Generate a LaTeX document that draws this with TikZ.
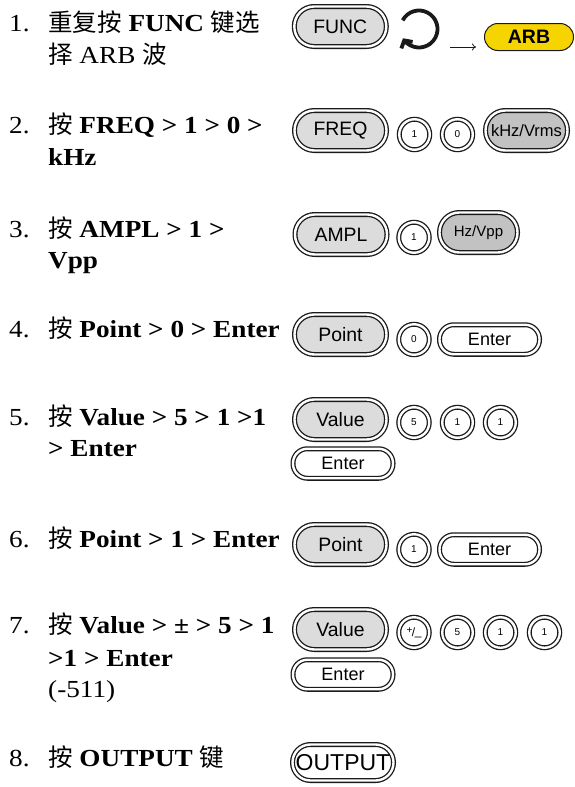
\documentclass[tikz,border=0pt]{standalone}
\usepackage{fontspec}
\setmainfont{Liberation Serif}[FakeStretch=1.11]
\newfontfamily\cjk{Noto Sans CJK SC}
\newfontfamily\btnf{Liberation Sans}
\usetikzlibrary{arrows.meta}
\definecolor{lgray}{HTML}{DCDCDC}
\definecolor{dgray}{HTML}{C2C2C2}
\definecolor{arby}{HTML}{F5D400}
\definecolor{ink}{HTML}{1A1A1A}
\newcommand\zh[1]{{\cjk #1}}
\tikzset{
  keyline/.style={draw=ink, double=white, double distance=2.4pt, line width=1.3pt, inner sep=0pt},
  bigkey/.style={keyline, rounded corners=19.8pt, minimum width=92pt, minimum height=40pt, fill=lgray, font=\btnf\fontsize{19.4}{20}\selectfont},
  unitkey/.style={keyline, rounded corners=19.8pt, minimum height=40pt, fill=dgray},
  enterkey/.style={keyline, rounded corners=14.4pt, minimum width=100pt, minimum height=29.5pt, fill=white, font=\btnf\fontsize{18}{19}\selectfont},
  digit/.style={keyline, circle, minimum size=30.5pt, fill=white, font=\btnf\fontsize{10}{10}\selectfont},
  numlab/.style={anchor=base west, inner sep=0pt, font=\fontsize{24.5}{32}\selectfont},
  steptxt/.style={anchor=base west, inner sep=0pt, font=\fontsize{24.5}{32}\selectfont},
}
\begin{document}
\begin{tikzpicture}[x=1pt, y=-1pt]
\useasboundingbox (0,0) rectangle (575,787);
\fill[white] (0,0) rectangle (575,787);

% ---- left column text
\node[numlab] (n1) at (9,31) {1.};
\node[steptxt] (t1) at (48,31) {\zh{重复按} \textbf{FUNC} \zh{键选}};
\node[steptxt] (t1b) at (48,63) {\zh{择} ARB \zh{波}};
\node[numlab] (n2) at (9,133) {2.};
\node[steptxt] (t2) at (48,133) {\zh{按} \textbf{FREQ > 1 > 0 >}};
\node[steptxt] (t2b) at (48,165) {\textbf{kHz}};
\node[numlab] (n3) at (9,237) {3.};
\node[steptxt] (t3) at (48,237) {\zh{按} \textbf{AMPL > 1 >}};
\node[steptxt] (t3b) at (48,268) {\textbf{Vpp}};
\node[numlab] (n4) at (9,337) {4.};
\node[steptxt] (t4) at (48,337) {\zh{按} \textbf{Point > 0 > Enter}};
\node[numlab] (n5) at (9,425) {5.};
\node[steptxt] (t5) at (48,425) {\zh{按} \textbf{Value > 5 > 1 >1}};
\node[steptxt] (t5b) at (48,456) {\textbf{> Enter}};
\node[numlab] (n6) at (9,547) {6.};
\node[steptxt] (t6) at (48,547) {\zh{按} \textbf{Point > 1 > Enter}};
\node[numlab] (n7) at (9,633) {7.};
\node[steptxt] (t7) at (48,633) {\zh{按} \textbf{Value > ± > 5 > 1}};
\node[steptxt] (t7b) at (48,666) {\textbf{>1 > Enter}};
\node[steptxt] (t7c) at (48,697) {(-511)};
\node[numlab] (n8) at (9,766) {8.};
\node[steptxt] (t8) at (48,766) {\zh{按} \textbf{OUTPUT} \zh{键}};

% ---- step 1
\node[bigkey] (func) at (340.3,26.5) {FUNC};
\draw[ink, line width=3.8pt, -{Straight Barb[length=5.5pt, width=13pt]}]
  (419,29) ++(-152:18.5) arc[start angle=-152, end angle=150, radius=18.5];
\node[draw=ink, line width=1pt, fill=arby, rounded corners=13.4pt, minimum width=89pt, minimum height=27pt, inner sep=0pt, font=\btnf\bfseries\fontsize{19.5}{20}\selectfont] (arb) at (529,37) {ARB};
\coordinate (ar1) at (450,47);
\coordinate (ar2) at (476,47);
\draw[ink, line width=0.8pt, -{To[length=4pt, width=7pt]}] (ar1) -- (ar2);

% ---- step 2
\node[bigkey] (freq) at (340.5,130.5) {FREQ};
\node[digit] (d21) at (414.5,134.5) {1};
\node[digit] (d20) at (457.5,134.5) {0};
\node[unitkey, minimum width=82pt, font=\btnf\fontsize{16.5}{17}\selectfont] (khz) at (526.5,130.5) {kHz/Vrms};

% ---- step 3
\node[bigkey] (ampl) at (341,234.5) {AMPL};
\node[digit] (d31) at (414,237.5) {1};
\node[unitkey, minimum width=78pt, font=\btnf\fontsize{15}{16}\selectfont] (hzv) at (478.5,232.5) {Hz/Vpp};

% ---- step 4
\node[bigkey] (pt4) at (340.5,334.5) {Point};
\node[digit] (d40) at (414,339.5) {0};
\node[enterkey] (ent4) at (489.5,339.5) {Enter};

% ---- step 5
\node[bigkey] (val5) at (340.5,419.5) {Value};
\node[digit] (d55) at (414,422.5) {5};
\node[digit] (d51) at (457.5,422.5) {1};
\node[digit] (d51b) at (500.5,422.5) {1};
\node[enterkey] (ent5) at (343,463.5) {Enter};

% ---- step 6
\node[bigkey] (pt6) at (340.5,544.5) {Point};
\node[digit] (d61) at (414,549.5) {1};
\node[enterkey] (ent6) at (489.5,549.5) {Enter};

% ---- step 7
\node[bigkey] (val7) at (340.5,629.5) {Value};
\node[digit, font=\btnf\fontsize{12}{12}\selectfont] (pm7) at (414,632.5) {\raisebox{2.5pt}{\fontsize{10}{10}\selectfont+}\kern-0.5pt/\kern-0.5pt\raisebox{1pt}{\_}};
\node[digit] (d75) at (457.5,632.5) {5};
\node[digit] (d71) at (500.5,632.5) {1};
\node[digit] (d71b) at (544.5,632.5) {1};
\node[enterkey] (ent7) at (343,674.5) {Enter};

% ---- step 8
\node[keyline, rounded corners=17.9pt, minimum width=101pt, minimum height=36pt, fill=white, font=\btnf\fontsize{23}{24}\selectfont] (out8) at (343,762.5) {OUTPUT};
\end{tikzpicture}
\end{document}
